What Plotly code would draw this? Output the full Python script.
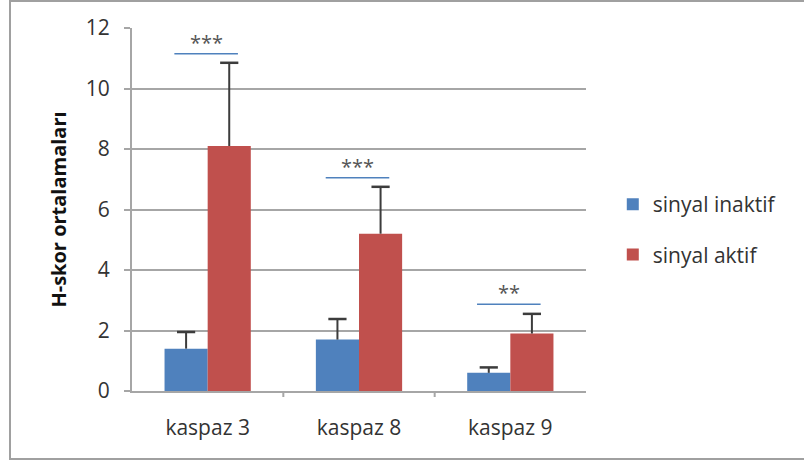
import plotly.graph_objects as go

# H-score means per caspase, with SD (upper error bar only)
categories = ["kaspaz 3", "kaspaz 8", "kaspaz 9"]
inaktif_mean = [1.4, 1.7, 0.6]
inaktif_err = [0.55, 0.68, 0.18]
aktif_mean = [8.1, 5.2, 1.9]
aktif_err = [2.75, 1.55, 0.65]

# significance brackets
sig_labels = ["***", "***", "**"]
sig_heights = [11.15, 7.05, 2.87]

y_ticks = [0, 2, 4, 6, 8, 10, 12]

BLUE = "#4f81bd"
RED = "#c0504d"
GRID = "#a6a6a6"
ERR = "#3c3c3c"
TEXT = "#333333"
FONT = "Open Sans"

W, H = 804, 465
ML, MR, MT, MB = 132, 218, 28, 74
PW = W - ML - MR
PH = H - MT - MB

BARGAP = 0.43
bar_w = (1 - BARGAP) / 2
xpos = list(range(len(categories)))

fig = go.Figure()
series = [
    ("sinyal inaktif", inaktif_mean, inaktif_err, BLUE, -bar_w / 2, "a"),
    ("sinyal aktif", aktif_mean, aktif_err, RED, bar_w / 2, "b"),
]
for name, mean, err, col, off, grp in series:
    # bar with the upward stem of the error bar (no caps)
    fig.add_trace(go.Bar(
        x=xpos, y=mean, name=name,
        marker=dict(color=col, line=dict(width=0)),
        error_y=dict(type="data", symmetric=False, array=err,
                     arrayminus=[0] * len(err),
                     color=ERR, thickness=2, width=0),
        legendgroup=grp,
    ))
    # cap at the top of each error bar
    fig.add_trace(go.Scatter(
        x=[x + off for x in xpos], y=[m + e for m, e in zip(mean, err)],
        mode="markers", showlegend=False, hoverinfo="skip",
        marker=dict(symbol="line-ew", size=13,
                    line=dict(color=ERR, width=2.5)),
        legendgroup=grp,
    ))

shapes = []
annotations = []
for i, (lab, h) in enumerate(zip(sig_labels, sig_heights)):
    shapes.append(dict(type="line", xref="x", yref="y",
                       x0=i - 0.22, x1=i + 0.2, y0=h, y1=h,
                       line=dict(color=BLUE, width=1.5)))
    annotations.append(dict(x=i - 0.01, y=h, xref="x", yref="y",
                            text=lab, showarrow=False, yanchor="bottom",
                            yshift=-4,
                            font=dict(family=FONT, size=20, color="#555555")))

# category boundary ticks on the x axis
for b in [0.5, 1.5]:
    shapes.append(dict(type="line", xref="x", yref="paper",
                       x0=b, x1=b, y0=0, y1=-6 / PH,
                       line=dict(color=GRID, width=2)))

# outer chart border
shapes.append(dict(type="rect", xref="paper", yref="paper",
                   x0=(10 - ML) / PW, x1=(812 - ML) / PW,
                   y0=(H - MB - 459) / PH, y1=(H - MB - 1) / PH,
                   line=dict(color="#a0a0a0", width=2)))

fig.update_layout(
    width=W, height=H,
    margin=dict(l=ML, r=MR, t=MT, b=MB),
    paper_bgcolor="white", plot_bgcolor="white",
    barmode="group", bargap=BARGAP, bargroupgap=0,
    font=dict(family=FONT, color=TEXT),
    shapes=shapes, annotations=annotations,
    showlegend=True,
    legend=dict(x=1.059, y=(H - MB - 229.5) / PH, xanchor="left", yanchor="middle",
                font=dict(family=FONT, size=21, color=TEXT),
                tracegroupgap=20, traceorder="grouped",
                itemwidth=30, bgcolor="rgba(0,0,0,0)"),
)

fig.update_xaxes(
    range=[-0.5, 2.5], tickmode="array", tickvals=xpos, ticktext=categories,
    showgrid=False, showline=True, linecolor=GRID, linewidth=2,
    ticks="", tickfont=dict(family=FONT, size=21, color=TEXT),
    ticklabelstandoff=17, zeroline=False,
)
fig.update_yaxes(
    range=[0, 12], tickvals=y_ticks,
    showgrid=True, gridcolor=GRID, gridwidth=2,
    showline=True, linecolor=GRID, linewidth=2,
    ticks="outside", ticklen=6, tickcolor=GRID, tickwidth=2,
    tickfont=dict(family=FONT, size=21, color=TEXT),
    ticklabelstandoff=10, zeroline=False,
    title=dict(text="<b>H-skor ortalamaları</b>",
               font=dict(family=FONT, size=20, color="#111111"), standoff=14),
)

fig.write_html("out.html")
